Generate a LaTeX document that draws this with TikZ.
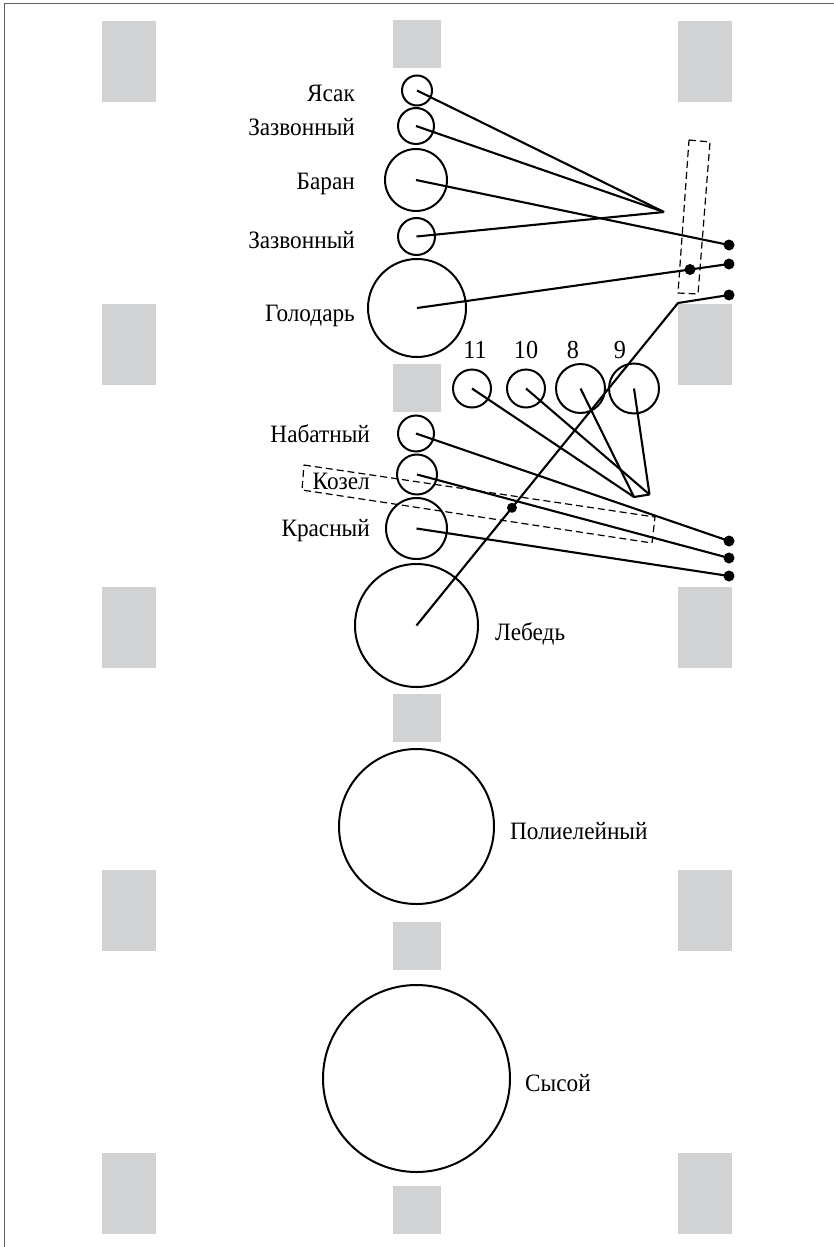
\documentclass[tikz,border=0pt]{standalone}
\usepackage{fontspec}
\setmainfont{Liberation Serif}
\newfontfamily\lblfont[FakeStretch=0.93]{Liberation Serif}
\usetikzlibrary{calc}
\definecolor{pgrey}{RGB}{209,210,212}
\begin{document}
\begin{tikzpicture}[x=1pt,y=-1pt,
  bell/.style={circle,draw,line width=2pt,inner sep=0pt,minimum size=#1},
  lbl/.style={inner sep=0pt,font=\lblfont\fontsize{25}{29}\selectfont},
  num/.style={inner sep=0pt,font=\lblfont\fontsize{26}{30}\selectfont},
  wire/.style={line width=2.1pt},
  dot/.style={circle,fill,inner sep=0pt,minimum size=11pt},
  pillar/.style={fill=pgrey,draw=none},
  dbox/.style={line width=1.2pt,dash pattern=on 7pt off 4pt}]
\useasboundingbox (0,0) rectangle (834,1247);
% frame
\draw[gray!75!black,line width=1.5pt] (4.5,1247) -- (4.5,3.5) -- (834,3.5);
% pillars
\foreach \y in {21,304,587,870,1153}{
  \fill[pillar] (102,\y) rectangle (156,\y+81);
  \fill[pillar] (678,\y) rectangle (732,\y+81);
}
\foreach \y in {20,364,694,922,1186}{
  \fill[pillar] (393,\y) rectangle (441,\y+48);
}
% bells
\node[bell=30pt] (yasak) at (417,90.5) {};
\node[bell=36pt] (zaz1) at (416,126) {};
\node[bell=62pt] (baran) at (416,180) {};
\node[bell=37pt] (zaz2) at (416.5,236.5) {};
\node[bell=98pt] (golodar) at (417,308) {};
\node[bell=38pt] (c11) at (472,388.5) {};
\node[bell=38pt] (c10) at (526,388.5) {};
\node[bell=49pt] (c8) at (580.5,388.5) {};
\node[bell=50pt] (c9) at (634,388.5) {};
\node[bell=36pt] (nabat) at (416,433.5) {};
\node[bell=40pt] (kozel) at (417,474.5) {};
\node[bell=61pt] (krasn) at (416.5,528.5) {};
\node[bell=123pt] (lebed) at (416.5,625.5) {};
\node[bell=155pt] (poli) at (416.5,826.5) {};
\node[bell=187pt] (sysoi) at (416.5,1078.5) {};
% labels
\node[lbl,anchor=base east] (tyasak) at (355,101.7) {Ясак};
\node[lbl,anchor=base east] (tzaz1) at (355,135) {Зазвонный};
\node[lbl,anchor=base east] (tbaran) at (355,189.3) {Баран};
\node[lbl,anchor=base east] (tzaz2) at (355,248.3) {Зазвонный};
\node[lbl,anchor=base east] (tgolodar) at (355,321) {Голодарь};
\node[lbl,anchor=base east] (tnabat) at (370,442.3) {Набатный};
\node[lbl,anchor=base east] (tkozel) at (370,489) {Козел};
\node[lbl,anchor=base east] (tkrasn) at (370,536.7) {Красный};
\node[lbl,anchor=base west] (tlebed) at (495,640) {Лебедь};
\node[lbl,anchor=base west] (tpoli) at (510,839.3) {Полиелейный};
\node[lbl,anchor=base west] (tsysoi) at (525,1091.7) {Сысой};
\node[num,anchor=base] (t11) at (475,358.3) {11};
\node[num,anchor=base] (t10) at (526,358.3) {10};
\node[num,anchor=base] (t8) at (573,358.3) {8};
\node[num,anchor=base] (t9) at (620,358.3) {9};
% dashed groups
\draw[dbox] (689,140) -- (710,142) -- (698,294) -- (678,293) -- cycle;
\draw[dbox] (304,465) -- (655,517) -- (652,543) -- (302,490) -- cycle;
% end points
\coordinate (conv) at (664,212);
\coordinate (bend) at (678,303);
\coordinate (A) at (634,497);
\coordinate (B) at (649.5,494.5);
\node[dot] (d1) at (729,245) {};
\node[dot] (d2) at (729,264) {};
\node[dot] (d3) at (729,295) {};
\node[dot] (d4) at (729,541) {};
\node[dot] (d5) at (729,558) {};
\node[dot] (d6) at (729,576) {};
\node[dot] (dm) at ($(golodar.center)!0.875!(d2.center)$) {};
\node[dot,minimum size=10pt] (dl) at ($(bend)!0.635!(lebed.center)$) {};
% wires
\draw[wire] (yasak.center) -- (conv);
\draw[wire] (zaz1.center) -- (conv);
\draw[wire] (zaz2.center) -- (conv);
\draw[wire] (baran.center) -- (d1.center);
\draw[wire] (golodar.center) -- (d2.center);
\draw[wire] (d3.center) -- (bend) -- (lebed.center);
\draw[wire] (nabat.center) -- (d4.center);
\draw[wire] (kozel.center) -- (d5.center);
\draw[wire] (krasn.center) -- (d6.center);
\draw[wire] (c11.center) -- (A);
\draw[wire] (c8.center) -- (A);
\draw[wire] (c10.center) -- (B);
\draw[wire] (c9.center) -- (B);
\draw[wire] (A) -- (B);
\end{tikzpicture}
\end{document}
